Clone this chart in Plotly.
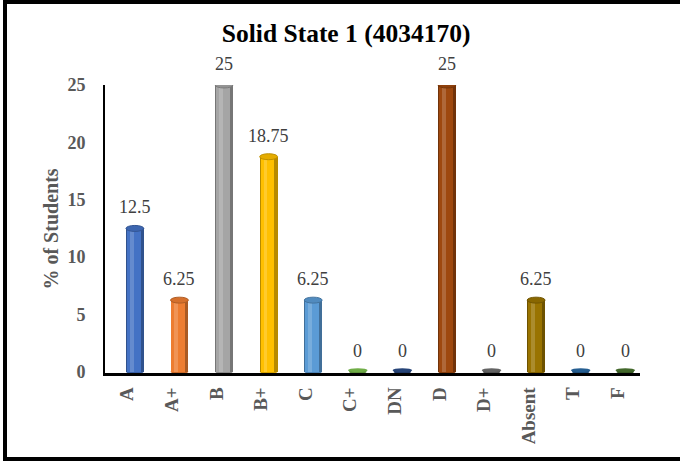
import plotly.graph_objects as go

categories = ["A", "A+", "B", "B+", "C", "C+", "DN", "D", "D+", "Absent", "T", "F"]
percent_students = [12.5, 6.25, 25, 18.75, 6.25, 0, 0, 25, 0, 6.25, 0, 0]
value_labels = ["12.5", "6.25", "25", "18.75", "6.25", "0", "0", "25", "0", "6.25", "0", "0"]
bar_colors = ["#4472C4", "#ED7D31", "#A5A5A5", "#FFC000", "#5B9BD5", "#70AD47",
              "#264478", "#9E480E", "#636363", "#997300", "#255E91", "#43682B"]
y_tick_values = [0, 5, 10, 15, 20, 25]


def shade(hex_color, f):
    h = hex_color.lstrip("#")
    r, g, b = int(h[0:2], 16), int(h[2:4], 16), int(h[4:6], 16)
    if f < 1:
        r, g, b = int(r * f), int(g * f), int(b * f)
    else:
        t = f - 1
        r, g, b = int(r + (255 - r) * t), int(g + (255 - g) * t), int(b + (255 - b) * t)
    return "#%02x%02x%02x" % (r, g, b)


SHIFT = 0.17   # perspective offset of the 3D cylinders
WIDTH = 0.40
SERIF = "Liberation Serif, Times New Roman, serif"
ML, MR, MT, MB = 105, 40, 85, 88
PW, PH = 680 - ML - MR, 461 - MT - MB

idx = list(range(len(categories)))
xb = [i + SHIFT for i in idx]

fig = go.Figure()
# cylinder body: dark edge, main colour, highlight
fig.add_trace(go.Bar(x=xb, y=percent_students, width=WIDTH,
                     marker=dict(color=[shade(c, 0.72) for c in bar_colors], line=dict(width=0)),
                     hoverinfo="skip", showlegend=False))
fig.add_trace(go.Bar(x=[v - 0.025 for v in xb], y=percent_students, width=WIDTH * 0.78,
                     marker=dict(color=bar_colors, line=dict(width=0)),
                     hoverinfo="skip", showlegend=False))
fig.add_trace(go.Bar(x=[v - 0.07 for v in xb], y=percent_students, width=WIDTH * 0.22,
                     marker=dict(color=[shade(c, 1.18) for c in bar_colors], line=dict(width=0)),
                     hoverinfo="skip", showlegend=False))

CAP = 0.26
shapes = []
for x, v, c in zip(xb, percent_students, bar_colors):
    # bottom rounding
    shapes.append(dict(type="circle", xref="x", yref="y", layer="below",
                       x0=x - WIDTH / 2, x1=x + WIDTH / 2, y0=-CAP * 0.7, y1=CAP * 0.7,
                       fillcolor=shade(c, 0.85), line=dict(width=0)))
    # top cap
    if v > 0:
        shapes.append(dict(type="circle", xref="x", yref="y", layer="above",
                           x0=x - WIDTH / 2, x1=x + WIDTH / 2, y0=v - CAP, y1=v + CAP,
                           fillcolor=shade(c, 0.9), line=dict(color=shade(c, 0.75), width=1)))
    else:
        shapes.append(dict(type="circle", xref="x", yref="y", layer="above",
                           x0=x - WIDTH / 2 - 0.02, x1=x + WIDTH / 2 + 0.02, y0=v - 0.02, y1=v + 0.32,
                           fillcolor=c, line=dict(width=0)))

# outer frame (pixel positions converted to paper fractions)
shapes.append(dict(type="rect", xref="paper", yref="paper",
                   x0=(5 - ML) / PW, x1=(684 - ML) / PW,
                   y0=-(459 - MT - PH) / PH, y1=1 + (MT - 2) / PH,
                   line=dict(color="black", width=4), fillcolor="rgba(0,0,0,0)", layer="above"))

annotations = []
for x, v, t in zip(xb, percent_students, value_labels):
    annotations.append(dict(x=x, y=v, xref="x", yref="y", text=t, showarrow=False,
                            yanchor="bottom", yshift=9,
                            font=dict(family=SERIF, size=18, color="#404040")))

fig.update_layout(
    width=680, height=461,
    margin=dict(l=ML, r=MR, t=MT, b=MB),
    paper_bgcolor="white", plot_bgcolor="white",
    barmode="overlay", bargap=0,
    title=dict(text="<b>Solid State 1 (4034170)</b>", x=0.509, y=0.928,
               xanchor="center", yanchor="middle",
               font=dict(family=SERIF, size=25.5, color="black")),
    shapes=shapes, annotations=annotations,
    showlegend=False,
)
fig.update_xaxes(range=[-0.5, len(categories) - 0.5], tickmode="array",
                 tickvals=idx, ticktext=["<b>%s</b>" % c for c in categories],
                 tickangle=-90, ticks="", showgrid=False, zeroline=False,
                 showline=True, linecolor="black", linewidth=2.5,
                 ticklabelstandoff=4,
                 tickfont=dict(family=SERIF, size=19, color="#595959"))
fig.update_yaxes(range=[-0.1, 25.0], tickmode="array", tickvals=y_tick_values,
                 ticktext=["<b>%d</b>" % v for v in y_tick_values],
                 ticks="", showgrid=False, zeroline=False,
                 showline=True, linecolor="black", linewidth=2,
                 ticklabelstandoff=14,
                 tickfont=dict(family=SERIF, size=18, color="#595959"),
                 title=dict(text="<b>% of Students</b>", standoff=3,
                            font=dict(family=SERIF, size=20, color="#595959")))

fig.write_html("out.html", config={"displayModeBar": False},
               post_script="document.body.style.margin='0px';")
